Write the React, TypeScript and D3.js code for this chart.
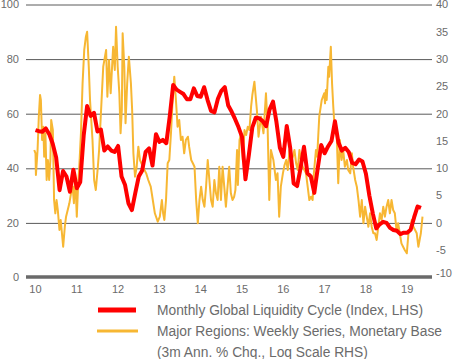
import React, { useEffect, useRef } from "react";
import * as d3 from "d3";

// Monthly Global Liquidity Cycle (Index, LHS), Jan 2010 onwards
const redStartYear = 2010;
const redValues = [
  54, 53.6, 53.4, 54.6, 52.5, 49, 44, 32, 39, 37, 31.4, 39.5,
  32.7, 35, 52, 62.8, 59.2, 60.3, 53.5, 54.2, 46.5, 48, 46.5, 46,
  48.2, 37, 34, 27.2, 24.7, 31, 37, 39.2, 46, 47.3, 41, 52.5,
  49.7, 50.4, 49.2, 59, 70.5, 68.8, 68, 67.2, 65.3, 65.3, 69.3, 66.5,
  66.2, 69.7, 65, 61, 60.5, 65.5, 68.4, 69.7, 63, 60.7, 58, 55,
  51.5, 36, 45, 55, 58.5, 58.3, 57.3, 55.4, 61.5, 64.4, 57, 47.5,
  44.2, 55.5, 47.5, 34.5, 33.5, 40, 47.9, 38.2, 37, 31, 40, 48.5,
  45.5, 48, 50, 57.2, 49.5, 46.5, 47.5, 46, 42, 41.5, 43.2, 42.5,
  38, 30, 23.5, 18, 19.5, 20.4, 20, 18.2, 17.4, 17.1, 15.9, 16.4,
  16.4, 17.5, 22, 26, 25.5,
];

// Major Regions weekly series, monetary base (3m ann. % chg, RHS): [years after 2010, value]
const yellowSeries: [number, number][] = [
  [-0.03, 13.35], [0.0, 12.75], [0.01, 8.77], [0.05, 13.35], [0.08, 19.45], [0.11, 23.42],
  [0.13, 22.51], [0.16, 15.18], [0.19, 17.62], [0.21, 12.12], [0.24, 16.41], [0.27, 7.86],
  [0.3, 11.52], [0.33, 7.86], [0.36, 11.52], [0.38, 18.85], [0.42, 17.01], [0.45, 4.19],
  [0.48, 1.76], [0.51, 4.19], [0.54, 2.36], [0.58, -1.3], [0.61, 0.53], [0.64, -1.9],
  [0.67, -4.36], [0.71, -0.7], [0.74, 1.14], [0.78, 2.36], [0.82, 3.59], [0.86, 5.42],
  [0.9, 6.63], [0.93, 3.59], [0.96, 9.08], [1.0, 1.14], [1.03, 6.63], [1.06, 10.29],
  [1.1, 16.41], [1.14, 25.57], [1.18, 31.67], [1.22, 34.1], [1.25, 35.02], [1.29, 28.61],
  [1.32, 22.51], [1.35, 18.85], [1.38, 15.18], [1.42, 7.86], [1.46, 6.03], [1.51, 10.29],
  [1.54, 13.35], [1.6, 22.51], [1.64, 28.61], [1.71, 31.67], [1.74, 23.11], [1.78, 29.84],
  [1.82, 23.74], [1.88, 32.27], [1.92, 28.0], [1.95, 35.93], [1.99, 28.61], [2.03, 23.74],
  [2.06, 16.41], [2.09, 20.68], [2.11, 34.73], [2.15, 28.61], [2.18, 18.24], [2.22, 25.57],
  [2.26, 30.44], [2.31, 25.57], [2.34, 20.68], [2.37, 12.75], [2.41, 8.46], [2.45, 10.29],
  [2.49, 13.96], [2.53, 11.52], [2.6, 10.29], [2.68, 9.08], [2.73, 7.86], [2.79, 6.63],
  [2.84, 4.19], [2.89, 1.76], [2.96, 0.22], [3.01, 1.14], [3.06, 4.19], [3.09, 1.76],
  [3.12, 0.53], [3.16, 4.19], [3.2, 10.92], [3.24, 11.52], [3.28, 16.41], [3.32, 22.51],
  [3.36, 26.78], [3.4, 22.51], [3.44, 17.62], [3.48, 18.85], [3.52, 15.18], [3.56, 15.79],
  [3.6, 12.75], [3.64, 15.18], [3.69, 15.79], [3.72, 13.96], [3.77, 11.52], [3.81, 10.92],
  [3.85, 10.29], [3.89, 4.19], [3.93, -0.07], [3.97, 4.19], [4.01, 6.63], [4.05, 4.19],
  [4.09, 2.97], [4.13, 6.63], [4.17, 11.52], [4.21, 7.86], [4.25, 4.19], [4.29, 2.97],
  [4.33, 7.86], [4.37, 5.42], [4.41, 4.19], [4.45, 10.29], [4.49, 4.19], [4.53, 10.29],
  [4.57, 6.63], [4.61, 2.97], [4.65, 6.63], [4.69, 10.29], [4.73, 5.42], [4.77, 4.19],
  [4.81, 4.8], [4.84, 6.03], [4.88, 13.35], [4.9, 6.94], [4.94, 15.18], [4.98, 16.41],
  [5.02, 11.52], [5.06, 17.01], [5.1, 16.1], [5.14, 17.62], [5.18, 17.01], [5.22, 21.28],
  [5.25, 23.42], [5.3, 25.86], [5.36, 20.68], [5.4, 15.79], [5.46, 19.45], [5.52, 16.41],
  [5.54, 18.85], [5.58, 23.74], [5.62, 17.62], [5.66, 4.19], [5.7, 13.35], [5.76, 11.52],
  [5.82, 7.86], [5.86, 9.08], [5.9, 1.14], [5.94, 6.63], [5.99, 9.08], [6.03, 10.6],
  [6.07, 11.52], [6.11, 9.69], [6.15, 13.35], [6.19, 11.52], [6.23, 12.12], [6.27, 13.35],
  [6.31, 10.92], [6.35, 9.69], [6.39, 13.35], [6.43, 11.52], [6.47, 10.29], [6.51, 9.69],
  [6.55, 9.08], [6.59, 6.63], [6.63, 4.19], [6.67, 4.8], [6.71, 4.19], [6.74, 9.08],
  [6.79, 13.35], [6.82, 12.12], [6.87, 19.45], [6.93, 22.51], [6.99, 23.74], [7.01, 21.9],
  [7.03, 24.34], [7.05, 22.51], [7.09, 28.61], [7.11, 26.78], [7.15, 32.27], [7.18, 25.57],
  [7.21, 21.28], [7.25, 16.41], [7.29, 17.01], [7.33, 7.25], [7.37, 15.18], [7.41, 11.52],
  [7.45, 13.35], [7.49, 10.29], [7.54, 11.52], [7.57, 9.69], [7.62, 9.08], [7.66, 12.75],
  [7.69, 10.29], [7.74, 7.86], [7.78, 6.63], [7.82, 4.19], [7.86, 1.14], [7.9, 4.19],
  [7.94, -0.07], [7.98, 2.97], [8.02, 1.14], [8.06, -0.7], [8.1, 1.76], [8.14, -0.7],
  [8.18, -1.9], [8.22, -1.9], [8.26, -3.13], [8.3, -0.7], [8.34, 1.76], [8.38, 0.53],
  [8.42, 2.97], [8.46, 1.14], [8.5, 2.97], [8.54, 4.19], [8.58, 1.76], [8.62, 4.19],
  [8.66, 2.36], [8.7, 1.76], [8.74, -1.3], [8.78, -0.07], [8.82, -1.9], [8.86, -3.74],
  [8.9, -4.36], [8.94, -4.96], [8.99, -5.57], [9.03, -1.9], [9.07, -1.3], [9.11, 0.53],
  [9.15, -0.7], [9.19, -1.3], [9.23, -1.9], [9.27, -4.36], [9.3, -3.13], [9.33, -1.9],
  [9.37, 1.14],
];

const xTickYears = [2010, 2011, 2012, 2013, 2014, 2015, 2016, 2017, 2018, 2019];
const xTickLabels = ["10", "11", "12", "13", "14", "15", "16", "17", "18", "19"];
const leftTicks = [0, 20, 40, 60, 80, 100];
const rightTicks = [-10, -5, 0, 5, 10, 15, 20, 25, 30, 35, 40];
const legendLabels = [
  "Monthly Global Liquidity Cycle (Index, LHS)",
  "Major Regions: Weekly Series, Monetary Base",
  "(3m Ann. % Chq., Loq Scale RHS)",
];

const W = 459;
const H = 359;
const RED = "#ff0000";
const GOLD = "#f7b733";
const TEXT = "#6b6b6b";
const GRID = "#5a5a5a";
const AXIS = "#6a6a6a";
const FONT = "'Liberation Sans', Arial, sans-serif";

const plotLeft = 26;
const plotRight = 432;
const plotTop = 4.5;
const plotBottom = 277.5;

export default function App() {
  const gridRef = useRef<SVGGElement | null>(null);

  const x = d3.scaleLinear().domain([2009.77, 2019.6]).range([plotLeft, plotRight]);
  const yL = d3.scaleLinear().domain([0, 100]).range([plotBottom, plotTop]);
  const yR = d3.scaleLinear().domain([-10, 40]).range([plotBottom, plotTop]);

  useEffect(() => {
    if (!gridRef.current) return;
    const g = d3.select(gridRef.current);
    g.selectAll("*").remove();
    const axis = d3
      .axisLeft(yL)
      .tickValues(leftTicks.filter((t) => t > 0))
      .tickSize(-(plotRight - plotLeft))
      .tickFormat(() => "");
    g.attr("transform", `translate(${plotLeft},0)`).call(axis);
    g.select(".domain").remove();
    g.selectAll(".tick line").attr("stroke", GRID).attr("stroke-width", 1);
  }, []);

  const redData = redValues.map((v, i) => ({ t: redStartYear + i / 12, v }));
  const redLine = d3
    .line<{ t: number; v: number }>()
    .x((d) => x(d.t))
    .y((d) => yL(d.v));
  const goldLine = d3
    .line<[number, number]>()
    .x((d) => x(2010 + d[0]))
    .y((d) => yR(d[1]));

  return (
    <div style={{ position: "absolute", left: 0, top: 0 }}>
      <svg width={W} height={H} style={{ display: "block", background: "#fff" }}>
        <g ref={gridRef} />
        <path d={goldLine(yellowSeries) || ""} fill="none" stroke={GOLD} strokeWidth={2} strokeLinejoin="round" />
        <path d={redLine(redData) || ""} fill="none" stroke={RED} strokeWidth={4} strokeLinejoin="round" />
        <path
          d={`M${plotLeft},${plotBottom - 0.5}H${plotRight}`}
          stroke={AXIS}
          strokeWidth={3.5}
          fill="none"
        />
        {leftTicks.map((t) => (
          <text
            key={"l" + t}
            x={19}
            y={yL(t)}
            dy="0.35em"
            textAnchor="end"
            fontFamily={FONT}
            fontSize={11}
            fill={TEXT}
          >
            {t}
          </text>
        ))}
        {rightTicks.map((t) => (
          <text
            key={"r" + t}
            x={436}
            y={yR(t) - (t === -10 ? 4 : 0)}
            dy="0.35em"
            textAnchor="start"
            fontFamily={FONT}
            fontSize={11}
            fill={TEXT}
          >
            {t}
          </text>
        ))}
        {xTickYears.map((yr, i) => (
          <text
            key={"x" + yr}
            x={x(yr)}
            y={293}
            textAnchor="middle"
            fontFamily={FONT}
            fontSize={11}
            fill={TEXT}
          >
            {xTickLabels[i]}
          </text>
        ))}
        <rect x={98} y={307.5} width={38} height={5} fill={RED} />
        <rect x={97} y={329.5} width={41} height={3} fill={GOLD} />
        {legendLabels.map((s, i) => (
          <text
            key={"lg" + i}
            x={157}
            y={315 + i * 21}
            fontFamily={FONT}
            fontSize={13.8}
            fill={TEXT}
          >
            {s}
          </text>
        ))}
      </svg>
    </div>
  );
}
